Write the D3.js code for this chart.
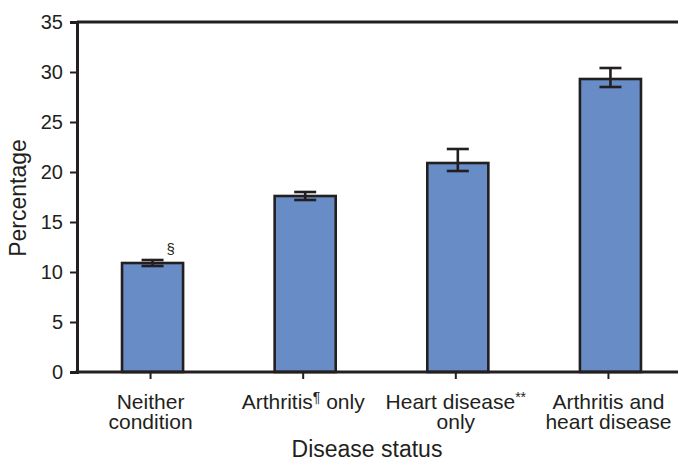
<!DOCTYPE html>
<html>
<head>
<meta charset="utf-8">
<script src="https://cdn.jsdelivr.net/npm/d3@7"></script>
<style>
  html, body { margin: 0; padding: 0; background: #fff; }
  svg { display: block; font-family: "Liberation Sans", Arial, Helvetica, sans-serif; }
</style>
</head>
<body>
<svg id="chart" width="678" height="461"></svg>
<script>
// ---- data ----
const categories = ["Neither condition", "Arthritis only", "Heart disease only", "Arthritis and heart disease"];
const values = [10.9, 17.6, 20.9, 29.3];
const lowerCI = [10.6, 17.2, 20.1, 28.5];
const upperCI = [11.2, 18.0, 22.3, 30.4];
const notes = ["§", "", "", ""];
const yTicks = [0, 5, 10, 15, 20, 25, 30, 35];
// label lines: [text, superscript, trailing text] per line
const labelLines = [
  [["Neither"], ["condition"]],
  [["Arthritis", "¶", " only"]],
  [["Heart disease", "**"], ["only"]],
  [["Arthritis and"], ["heart disease"]]
];
const yTitle = "Percentage";
const xTitle = "Disease status";

// ---- layout ----
const svg = d3.select("#chart");
const mLeft = 77, mRight = 686, mTop = 22, mBottom = 372;
const ink = "#231f20";
const barFill = "#678cc6";

const x = d3.scaleBand().domain(categories).range([mLeft, mRight])
  .paddingInner(0.6).paddingOuter(0.295);
const y = d3.scaleLinear().domain([0, 35]).range([mBottom, mTop]);

// frame top line
svg.append("line").attr("x1", mLeft).attr("x2", 700).attr("y1", y(35)).attr("y2", y(35))
  .attr("stroke", ink).attr("stroke-width", 3);

// bars
svg.selectAll("rect.bar").data(categories).join("rect")
  .attr("class", "bar")
  .attr("x", d => x(d))
  .attr("width", x.bandwidth())
  .attr("y", (d, i) => y(values[i]))
  .attr("height", (d, i) => y(0) - y(values[i]))
  .attr("fill", barFill)
  .attr("stroke", ink)
  .attr("stroke-width", 2.6);

// error bars
const capW = 22;
const cxOf = d => x(d) + x.bandwidth() / 2;
const eb = svg.selectAll("g.err").data(categories).join("g").attr("class", "err")
  .attr("stroke", ink).attr("stroke-width", 2.6);
eb.append("line")
  .attr("x1", cxOf).attr("x2", cxOf)
  .attr("y1", (d, i) => y(lowerCI[i])).attr("y2", (d, i) => y(upperCI[i]));
eb.append("line")
  .attr("x1", d => cxOf(d) - capW / 2).attr("x2", d => cxOf(d) + capW / 2)
  .attr("y1", (d, i) => y(lowerCI[i])).attr("y2", (d, i) => y(lowerCI[i]));
eb.append("line")
  .attr("x1", d => cxOf(d) - capW / 2).attr("x2", d => cxOf(d) + capW / 2)
  .attr("y1", (d, i) => y(upperCI[i])).attr("y2", (d, i) => y(upperCI[i]));

// notes (§)
svg.selectAll("text.note").data(categories).join("text")
  .attr("class", "note")
  .attr("x", d => cxOf(d) + 18)
  .attr("y", (d, i) => y(upperCI[i]) - 6)
  .attr("text-anchor", "middle")
  .attr("font-size", 15)
  .attr("fill", ink)
  .text((d, i) => notes[i]);

// y axis
const yAxis = d3.axisLeft(y).tickValues(yTicks).tickSize(7).tickPadding(7).tickFormat(d3.format("d"));
const gy = svg.append("g").attr("transform", `translate(${mLeft},0)`).call(yAxis);
gy.select(".domain").attr("stroke", ink).attr("stroke-width", 3);
gy.selectAll(".tick line").attr("stroke", ink).attr("stroke-width", 2);
gy.selectAll(".tick text").attr("font-size", 20).attr("fill", ink)
  .attr("font-family", "'Liberation Sans', Arial, sans-serif");

// x axis
const xAxis = d3.axisBottom(x).tickSize(7).tickFormat("").tickSizeOuter(0);
const gx = svg.append("g").attr("transform", `translate(0,${mBottom})`).call(xAxis);
gx.select(".domain").attr("stroke", ink).attr("stroke-width", 3)
  .attr("d", `M${mLeft - 1.5},0H700`);
gx.selectAll(".tick line").attr("stroke", ink).attr("stroke-width", 2).attr("transform", "translate(-2,0)");

// category labels
svg.selectAll("text.cat").data(categories).join("text")
  .attr("class", "cat")
  .attr("text-anchor", "middle")
  .attr("font-size", 21)
  .attr("fill", ink)
  .each(function (d, i) {
    const t = d3.select(this);
    const cx = cxOf(d) - 2;
    labelLines[i].forEach((segs, li) => {
      const line = t.append("tspan").attr("x", cx).attr("y", 409 + li * 20);
      line.append("tspan").text(segs[0]);
      if (segs[1]) line.append("tspan").attr("font-size", 14).attr("dy", -7).text(segs[1]);
      if (segs[2]) line.append("tspan").attr("dy", 7).text(segs[2]);
    });
  });

// axis titles
svg.append("text")
  .attr("transform", `translate(26,198) rotate(-90)`)
  .attr("text-anchor", "middle")
  .attr("font-size", 23)
  .attr("fill", ink)
  .text(yTitle);
svg.append("text")
  .attr("x", 367).attr("y", 457)
  .attr("text-anchor", "middle")
  .attr("font-size", 23)
  .attr("fill", ink)
  .text(xTitle);
</script>
</body>
</html>
